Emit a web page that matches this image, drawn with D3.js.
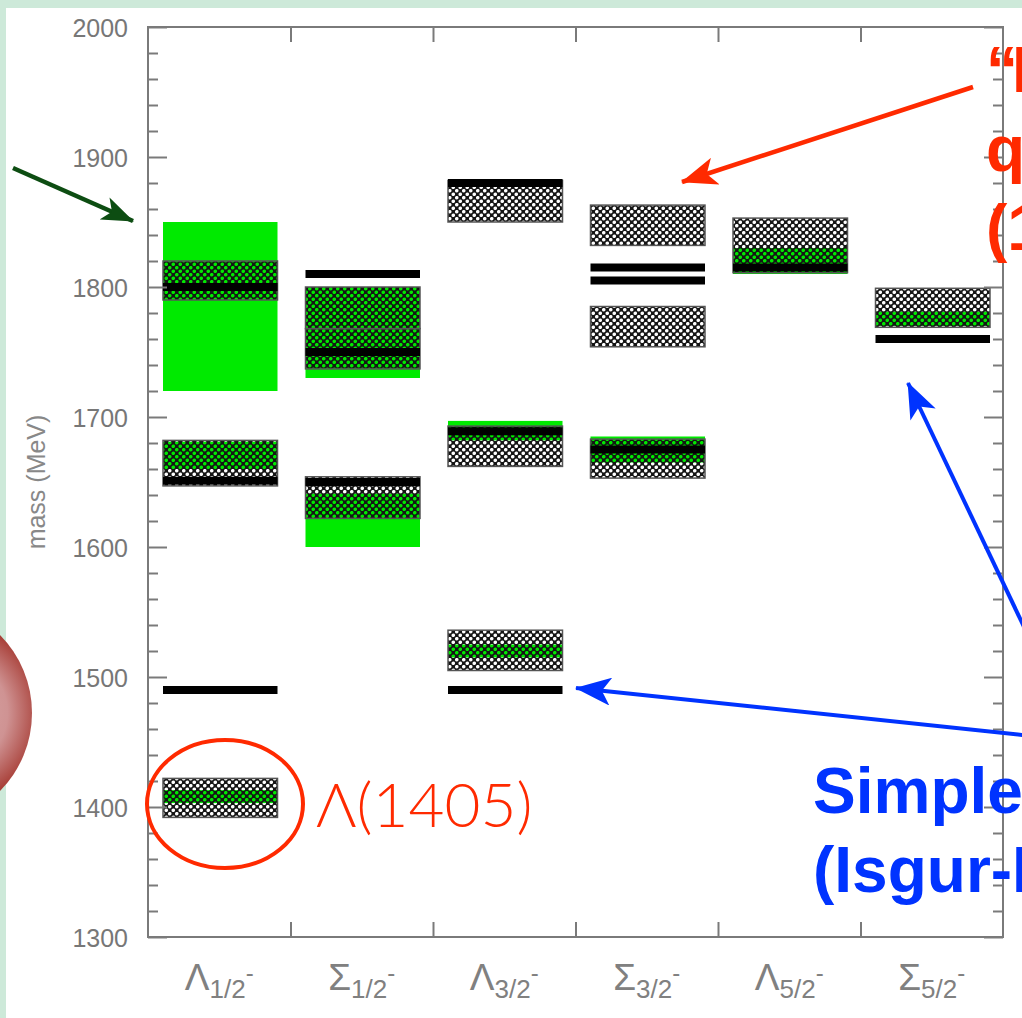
<!DOCTYPE html>
<html lang="en">
<head>
    <meta charset="UTF-8">
    <title>Negative-parity hyperon spectrum</title>
    <script src="https://d3js.org/d3.v7.min.js"></script>
    <style>
        body {
            margin: 0;
            overflow: hidden;
            background: #cde9d9;
        }
        svg { display: block; }
        .axis path, .axis line { stroke: #7a7a7a; stroke-width: 2px; }
        .ylab text { font-family: "Liberation Sans", Arial, sans-serif; font-size: 25px; fill: #777; }
        .xlab { font-family: "Liberation Sans", Arial, sans-serif; fill: #808080; }
        .callout { font-family: "Liberation Sans", Arial, sans-serif; font-weight: bold; font-size: 64px; }
    </style>
</head>
<body>
<svg></svg>
<script>
    // categories (baryon + J^P)
    const letters = ["Λ", "Σ", "Λ", "Σ", "Λ", "Σ"];
    const spins = ["1/2", "1/2", "3/2", "3/2", "5/2", "5/2"];
    const categories = letters.map((l, i) => l + spins[i]);

    // green bands (lo, hi MeV)
    const greenCat = [0, 0, 0, 1, 1, 2, 2, 3, 4, 5];
    const greenLo  = [1720, 1660, 1403, 1730, 1600, 1682, 1515, 1665, 1810, 1770];
    const greenHi  = [1850, 1681, 1413, 1800, 1641, 1697, 1525, 1685, 1830, 1781];

    // hatched experimental boxes
    const expCat = [0, 0, 0, 1, 1, 1, 2, 2, 2, 3, 3, 3, 4, 5];
    const expLo  = [1790, 1647, 1392, 1737, 1768, 1622, 1850, 1662, 1505, 1832, 1754, 1653, 1811, 1769];
    const expHi  = [1820, 1682, 1422, 1768, 1800, 1654, 1882, 1693, 1536, 1863, 1785, 1683, 1853, 1799];

    // black lines: quark model levels
    const qmCat  = [0, 0, 0, 1, 1, 1, 2, 2, 2, 3, 3, 3, 4, 5];
    const qmMass = [1800, 1651, 1490, 1810, 1750, 1650, 1880, 1689, 1490, 1815, 1805, 1675, 1815, 1760];

    const majorTicks = d3.range(1300, 2001, 100);
    const minorTicks = d3.range(1300, 2001, 20).filter(v => v % 100 !== 0);

    const W = 1022, H = 1018;
    const svg = d3.select("svg").attr("width", W).attr("height", H);

    const pLeft = 148, pRight = 1003, pTop = 27, pBottom = 937;

    const x = d3.scaleBand().domain(categories).range([pLeft, pRight]).padding(0);
    const xi = d3.scaleLinear().domain([0, categories.length]).range([pLeft, pRight]);
    const y = d3.scaleLinear().domain([1300, 2000]).range([pBottom, pTop]);

    const defs = svg.append("defs");

    // checker pattern: black with round holes
    const pat = defs.append("pattern")
        .attr("id", "hatch")
        .attr("patternUnits", "userSpaceOnUse")
        .attr("width", 7).attr("height", 7);
    pat.append("path")
        .attr("fill-rule", "evenodd")
        .attr("fill", "#151515")
        .attr("d", "M0,0H7V7H0Z" +
            "M-0.05,1.75a1.8,1.8 0 1,0 3.6,0a1.8,1.8 0 1,0 -3.6,0Z" +
            "M3.45,5.25a1.8,1.8 0 1,0 3.6,0a1.8,1.8 0 1,0 -3.6,0Z");

    const grad = defs.append("radialGradient")
        .attr("id", "ball")
        .attr("cx", "0.62").attr("cy", "0.5").attr("r", "0.5")
        .attr("fx", "0.66").attr("fy", "0.5");
    grad.append("stop").attr("offset", "0").attr("stop-color", "#dcaaaa");
    grad.append("stop").attr("offset", "0.5").attr("stop-color", "#cf9393");
    grad.append("stop").attr("offset", "0.82").attr("stop-color", "#a9413a");
    grad.append("stop").attr("offset", "1").attr("stop-color", "#8e1a0b");

    function marker(id, color, len, wid) {
        defs.append("marker")
            .attr("id", id)
            .attr("markerUnits", "userSpaceOnUse")
            .attr("viewBox", `0 ${-wid / 2} ${len} ${wid}`)
            .attr("refX", len - 1).attr("refY", 0)
            .attr("markerWidth", len).attr("markerHeight", wid)
            .attr("orient", "auto")
            .append("path")
            .attr("d", `M0,${-wid / 2}L${len},0L0,${wid / 2}L${len * 0.25},0Z`)
            .attr("fill", color);
    }
    marker("arrG", "#0d4d12", 32, 24);
    marker("arrR", "#ff2a00", 36, 28);
    marker("arrB", "#0033ff", 36, 28);

    // white panel
    svg.append("rect").attr("x", 6).attr("y", 8).attr("width", W).attr("height", H).attr("fill", "#fff");

    // sphere at left edge
    svg.append("circle").attr("cx", -79).attr("cy", 713).attr("r", 111).attr("fill", "url(#ball)");

    const barX = c => x(c) + 15;
    const barW = x.bandwidth() - 28;

    // green bands
    svg.append("g").selectAll("rect")
        .data(greenCat.map((c, i) => ({c: categories[c], lo: greenLo[i], hi: greenHi[i]})))
        .join("rect")
        .attr("x", d => barX(d.c)).attr("width", barW)
        .attr("y", d => y(d.hi)).attr("height", d => y(d.lo) - y(d.hi))
        .attr("fill", "#00ea00");

    // hatched experimental boxes
    svg.append("g").selectAll("rect")
        .data(expCat.map((c, i) => ({c: categories[c], lo: expLo[i], hi: expHi[i]})))
        .join("rect")
        .attr("x", d => barX(d.c)).attr("width", barW)
        .attr("y", d => y(d.hi)).attr("height", d => y(d.lo) - y(d.hi))
        .attr("fill", "url(#hatch)")
        .attr("stroke", "#555").attr("stroke-width", 1.5);

    // quark model lines
    svg.append("g").selectAll("rect")
        .data(qmCat.map((c, i) => ({c: categories[c], m: qmMass[i]})))
        .join("rect")
        .attr("x", d => barX(d.c)).attr("width", barW)
        .attr("y", d => y(d.m) - 4).attr("height", 8)
        .attr("fill", "#000");

    // axes
    svg.append("rect")
        .attr("x", pLeft).attr("y", pTop).attr("width", pRight - pLeft).attr("height", pBottom - pTop)
        .attr("fill", "none").attr("stroke", "#7a7a7a").attr("stroke-width", 2);

    const axes = [
        d3.axisLeft(y).tickValues(majorTicks).tickSize(-19).tickFormat(""),
        d3.axisLeft(y).tickValues(minorTicks).tickSize(-10).tickFormat("")
    ];
    axes.forEach(a => svg.append("g").attr("class", "axis").attr("transform", `translate(${pLeft},0)`).call(a));
    svg.append("g").attr("class", "axis").attr("transform", `translate(${pRight},0)`)
        .call(d3.axisRight(y).tickValues(majorTicks).tickSize(-19).tickFormat(""));
    svg.append("g").attr("class", "axis").attr("transform", `translate(${pRight},0)`)
        .call(d3.axisRight(y).tickValues(minorTicks).tickSize(-10).tickFormat(""));
    svg.append("g").attr("class", "axis").attr("transform", `translate(0,${pTop})`)
        .call(d3.axisTop(xi).tickValues(d3.range(1, 6)).tickSize(-15).tickFormat(""));
    svg.append("g").attr("class", "axis").attr("transform", `translate(0,${pBottom})`)
        .call(d3.axisBottom(xi).tickValues(d3.range(1, 6)).tickSize(-15).tickFormat(""));
    svg.selectAll(".axis path.domain").remove();

    svg.append("g").attr("class", "ylab").attr("transform", `translate(${pLeft},0)`)
        .call(d3.axisLeft(y).tickValues(majorTicks).tickSize(0).tickPadding(20).tickFormat(d3.format("d")))
        .call(g => g.select(".domain").remove())
        .selectAll("text").attr("dy", "0.36em");

    svg.append("text")
        .attr("transform", `translate(45,${(pTop + pBottom) / 2})`+ " rotate(-90)")
        .attr("text-anchor", "middle")
        .attr("font-family", "Liberation Sans, Arial, sans-serif")
        .attr("font-size", 25).attr("fill", "#888")
        .text("mass (MeV)");

    // category labels
    const xl = svg.append("g").selectAll("text")
        .data(categories)
        .join("text")
        .attr("class", "xlab")
        .attr("x", d => x(d) + x.bandwidth() / 2)
        .attr("y", 990)
        .attr("text-anchor", "middle");
    xl.append("tspan").attr("font-size", 37).text((d, i) => letters[i]);
    xl.append("tspan").attr("font-size", 26).attr("dy", 8).text((d, i) => spins[i]);
    xl.append("tspan").attr("font-size", 24).attr("dy", -17).text("-");

    // annotations
    svg.append("ellipse")
        .attr("cx", 225).attr("cy", 804).attr("rx", 78).attr("ry", 64)
        .attr("fill", "none").attr("stroke", "#ff2a00").attr("stroke-width", 4);
    svg.append("text")
        .attr("x", 316).attr("y", 827)
        .attr("font-family", "Lato, 'Liberation Sans', sans-serif").attr("font-weight", 300)
        .attr("font-size", 62).attr("fill", "#ff2a00")
        .text("Λ(1405)");

    svg.append("line")
        .attr("x1", 13).attr("y1", 168).attr("x2", 133).attr("y2", 221)
        .attr("stroke", "#0d4d12").attr("stroke-width", 4.5).attr("marker-end", "url(#arrG)");
    svg.append("line")
        .attr("x1", 973).attr("y1", 87).attr("x2", 682).attr("y2", 182)
        .attr("stroke", "#ff2a00").attr("stroke-width", 4.5).attr("marker-end", "url(#arrR)");
    svg.append("line")
        .attr("x1", 1035).attr("y1", 650).attr("x2", 908).attr("y2", 383)
        .attr("stroke", "#0033ff").attr("stroke-width", 4).attr("marker-end", "url(#arrB)");
    svg.append("line")
        .attr("x1", 1032).attr("y1", 736).attr("x2", 576).attr("y2", 688)
        .attr("stroke", "#0033ff").attr("stroke-width", 4).attr("marker-end", "url(#arrB)");

    // call-outs run past the right edge of the slide, as in the original
    const red = svg.append("text").attr("class", "callout").attr("fill", "#ff2a00");
    ["“Improved”", "quark model", "(1990s)"].forEach((t, i) =>
        red.append("tspan").attr("x", 986).attr("y", 92 + i * 79)
            .attr("letter-spacing", i === 0 ? -6 : 0).text(t));

    const blue = svg.append("text").attr("class", "callout").attr("fill", "#0033ff");
    ["Simple quark model", "(Isgur-Karl)"].forEach((t, i) =>
        blue.append("tspan").attr("x", 813).attr("y", 813 + i * 79).text(t));
</script>
</body>
</html>
